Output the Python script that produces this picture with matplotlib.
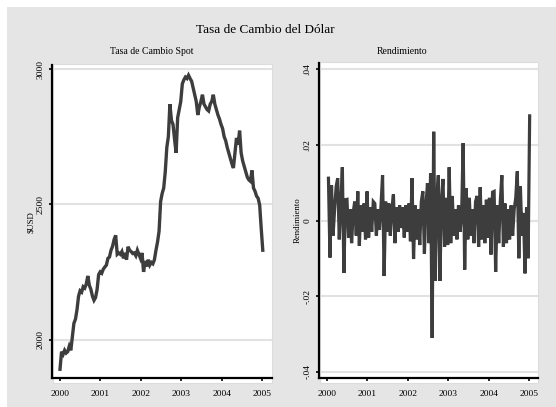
import matplotlib.pyplot as plt
from matplotlib.patches import Rectangle
import numpy as np
import pandas as pd

plt.rcParams['font.family'] = 'Liberation Serif'

# biweekly spot rate (COP per USD)
spot = [1890, 1955, 1945, 1960, 1950, 1955, 1975, 1960, 2010, 2060,
        2075, 2110, 2160, 2180, 2175, 2195, 2190, 2205, 2235, 2200,
        2185, 2160, 2145, 2155, 2185, 2240, 2250, 2245, 2260, 2268,
        2275, 2300, 2305, 2330, 2345, 2370, 2385, 2315, 2320, 2315,
        2325, 2300, 2320, 2295, 2343, 2330, 2325, 2318, 2320, 2310,
        2330, 2315, 2300, 2320, 2250, 2290, 2270, 2295, 2275, 2285,
        2280, 2295, 2330, 2360, 2400, 2510, 2540, 2560, 2620, 2710,
        2750, 2870, 2810, 2795, 2740, 2690, 2820, 2850, 2880, 2945,
        2960, 2970, 2965, 2977, 2965, 2955, 2930, 2905, 2880, 2830,
        2860, 2880, 2905, 2870, 2860, 2850, 2845, 2870, 2880, 2905,
        2870, 2850, 2830, 2815, 2795, 2780, 2750, 2735, 2710, 2690,
        2670, 2650, 2634, 2690, 2745, 2720, 2772, 2690, 2660, 2640,
        2620, 2600, 2590, 2585, 2625, 2560, 2548, 2530, 2522, 2497,
        2410, 2330]

# returns over the same period
rend = [0.0112, -0.0098, 0.0093, -0.0040, 0.0030, 0.0090, 0.0112, -0.0050, 0.0040, 0.0141,
        -0.0139, 0.0055, 0.0056, -0.0045, 0.0030, -0.0060, 0.0020, 0.0050, -0.0040, 0.0077,
        -0.0067, 0.0040, -0.0030, 0.0045, -0.0050, 0.0077, -0.0045, 0.0035, -0.0030, 0.0050,
        0.0045, -0.0040, 0.0030, -0.0025, 0.0040, 0.0120, -0.0147, 0.0050, -0.0030, 0.0045,
        -0.0040, 0.0030, 0.0069, -0.0060, 0.0035, -0.0030, 0.0040, -0.0020, 0.0035, -0.0045,
        0.0040, -0.0030, 0.0045, -0.0055, 0.0112, -0.0102, 0.0040, -0.0050, 0.0030, -0.0065,
        0.0050, 0.0077, -0.0088, 0.0040, 0.0099, -0.0060, 0.0125, -0.0311, 0.0235, -0.0160,
        0.0060, 0.0120, -0.0160, 0.0050, 0.0110, -0.0070, 0.0060, -0.0065, 0.0141, -0.0060,
        0.0065, -0.0040, 0.0030, -0.0050, 0.0040, -0.0030, 0.0010, 0.0205, -0.0130, 0.0085,
        -0.0050, 0.0060, -0.0040, 0.0030, -0.0060, 0.0050, 0.0065, -0.0070, 0.0088, -0.0050,
        0.0040, -0.0060, 0.0055, -0.0045, 0.0060, -0.0090, 0.0075, 0.0077, -0.0136, 0.0040,
        -0.0060, 0.0050, 0.0120, -0.0070, 0.0045, -0.0060, 0.0030, -0.0050, 0.0040, -0.0040,
        0.0030, 0.0060, 0.0130, -0.0100, 0.0090, -0.0040, 0.0020, -0.0140, 0.0035, -0.0100,
        0.0277]

years = [2000, 2001, 2002, 2003, 2004, 2005]
spot_ticks = [2000, 2500, 3000]
rend_ticks = [-0.04, -0.02, 0, 0.02, 0.04]
rend_labels = ['-.04', '-.02', '0', '.02', '.04']


def frac_year(d):
    d = pd.DatetimeIndex(d)
    days = np.where(d.is_leap_year, 366, 365)
    return d.year + (d.dayofyear - 1) / days


t_spot = frac_year(pd.date_range('2000-01-01', periods=len(spot), freq='14D'))
t_rend = frac_year(pd.date_range('2000-01-14', periods=len(rend), freq='14D'))

W, H = 556, 407
fig = plt.figure(figsize=(W / 100, H / 100), dpi=100, facecolor='white')


def box(x0, y0, x1, y1):
    return [x0 / W, 1 - y1 / H, (x1 - x0) / W, (y1 - y0) / H]


def fig_rect(x0, y0, x1, y1, **kw):
    r = box(x0, y0, x1, y1)
    fig.patches.append(Rectangle((r[0], r[1]), r[2], r[3],
                                 transform=fig.transFigure, **kw))


def fig_txt(x, y, s, **kw):
    fig.text(x / W, 1 - y / H, s, ha='center', va='center', **kw)


# outer gray background and white plot regions, kept behind the axes
fig_rect(7, 7, W, H, facecolor='#e5e5e5', edgecolor='none', zorder=-2)
fig_rect(53, 64, 272, 383, facecolor='white', edgecolor='#dcdcdc', lw=0.8, zorder=-1)
fig_rect(320, 62, 538, 383, facecolor='white', edgecolor='#dcdcdc', lw=0.8, zorder=-1)

line_col = '#3d3d3d'
grid_col = '#e2e2e2'


def style(ax):
    ax.set_facecolor('none')
    for s in ['top', 'right']:
        ax.spines[s].set_visible(False)
    for s in ['left', 'bottom']:
        ax.spines[s].set_linewidth(1.6)
        ax.spines[s].set_color('black')
    ax.tick_params(direction='out', length=2.5, width=1.2, labelsize=6.8,
                   colors='black', pad=3)
    ax.tick_params(axis='x', pad=6)
    ax.grid(axis='y', color=grid_col, lw=1.5, zorder=0)
    ax.set_axisbelow(True)
    ax.set_xticks(years)
    ax.set_xticklabels([str(y) for y in years])
    for lab in ax.get_yticklabels():
        lab.set_rotation(90)
        lab.set_va('center')


# left panel: spot rate
ax1 = fig.add_axes(box(52, 65, 272, 378))
ax1.plot(t_spot, spot, color=line_col, lw=2.4, solid_joinstyle='miter')
ax1.set_xlim(2000 - 8 / 40.4, 2005 + 10 / 40.4)
ax1.set_ylim(1857.7, 3014.8)
ax1.set_yticks(spot_ticks)
ax1.set_yticklabels([str(v) for v in spot_ticks])
style(ax1)

# right panel: returns
ax2 = fig.add_axes(box(319, 63, 538, 378))
ax2.plot(t_rend, rend, color=line_col, lw=2.3, solid_joinstyle='miter')
ax2.set_xlim(2000 - 8 / 40.4, 2005 + 9 / 40.4)
ax2.set_ylim(-0.0417, 0.0417)
ax2.set_yticks(rend_ticks)
ax2.set_yticklabels(rend_labels)
style(ax2)

fig_txt(265, 30, 'Tasa de Cambio del Dólar', fontsize=9.5)
fig_txt(152, 51, 'Tasa de Cambio Spot', fontsize=7)
fig_txt(402, 51, 'Rendimiento', fontsize=7)
fig_txt(31, 222, r'\$USD', fontsize=6.3, rotation=90)
fig_txt(298, 220, 'Rendimiento', fontsize=6.3, rotation=90)

fig.savefig('out.png', dpi=100, facecolor='white')
